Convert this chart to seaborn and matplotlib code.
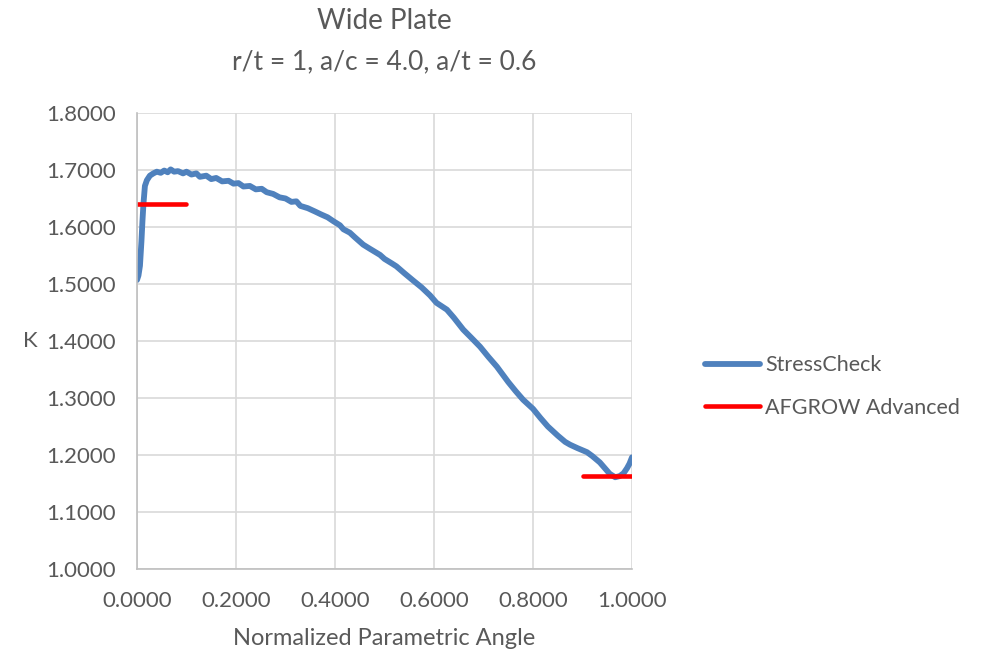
import matplotlib.pyplot as plt
import seaborn as sns
import pandas as pd
from matplotlib.ticker import FormatStrFormatter, MultipleLocator

# Valores (StressCheck)
angulo = [0.000, 0.003, 0.006, 0.009, 0.011, 0.013, 0.016, 0.020, 0.026, 0.033,
          0.040, 0.048, 0.055, 0.062, 0.068, 0.075, 0.083, 0.093, 0.100, 0.110,
          0.120, 0.127, 0.140, 0.150, 0.160, 0.172, 0.185, 0.195, 0.205, 0.215,
          0.228, 0.240, 0.252, 0.262, 0.275, 0.288, 0.300, 0.312, 0.322, 0.330,
          0.345, 0.360, 0.372, 0.385, 0.397, 0.410, 0.417, 0.430, 0.440, 0.457,
          0.470, 0.491, 0.500, 0.515, 0.524, 0.540, 0.558, 0.575, 0.592, 0.605,
          0.626, 0.640, 0.659, 0.675, 0.693, 0.710, 0.727, 0.750, 0.765, 0.780,
          0.800, 0.815, 0.830, 0.850, 0.865, 0.875, 0.890, 0.909, 0.920, 0.935,
          0.945, 0.955, 0.966, 0.975, 0.983, 0.990, 0.995, 1.000]
k_stresscheck = [1.507, 1.515, 1.532, 1.575, 1.610, 1.640, 1.672, 1.682, 1.690, 1.694,
                 1.697, 1.695, 1.699, 1.696, 1.701, 1.697, 1.698, 1.694, 1.697, 1.692,
                 1.694, 1.688, 1.690, 1.684, 1.686, 1.680, 1.681, 1.676, 1.677, 1.671,
                 1.672, 1.666, 1.667, 1.661, 1.658, 1.652, 1.650, 1.644, 1.645, 1.637,
                 1.633, 1.627, 1.622, 1.617, 1.610, 1.603, 1.596, 1.590, 1.582, 1.569,
                 1.562, 1.551, 1.544, 1.536, 1.531, 1.519, 1.506, 1.494, 1.480, 1.467,
                 1.455, 1.441, 1.420, 1.406, 1.390, 1.372, 1.355, 1.328, 1.312, 1.297,
                 1.281, 1.265, 1.250, 1.234, 1.223, 1.218, 1.212, 1.205, 1.198, 1.187,
                 1.177, 1.167, 1.161, 1.163, 1.168, 1.177, 1.185, 1.196]

# AFGROW Advanced (dos segmentos)
afgrow_x1 = [0.0, 0.1]
afgrow_k1 = [1.640, 1.640]
afgrow_x2 = [0.9, 1.0]
afgrow_k2 = [1.163, 1.163]

gris = "#595959"

sns.set_style("white")
plt.rcParams['font.family'] = ['Lato', 'DejaVu Sans']

df_sc = pd.DataFrame({"x": angulo, "k": k_stresscheck})
df_af1 = pd.DataFrame({"x": afgrow_x1, "k": afgrow_k1})
df_af2 = pd.DataFrame({"x": afgrow_x2, "k": afgrow_k2})

fig = plt.figure(figsize=(9.82, 6.53), dpi=100)
ax = fig.add_axes([0.1395, 0.1286, 0.5041, 0.6984])

sns.lineplot(data=df_sc, x="x", y="k", ax=ax, color="#4f81bd", linewidth=4.2,
             label="StressCheck", solid_capstyle="round", sort=False)
sns.lineplot(data=df_af1, x="x", y="k", ax=ax, color="#ff0000", linewidth=3.3,
             label="AFGROW Advanced", solid_capstyle="round")
sns.lineplot(data=df_af2, x="x", y="k", ax=ax, color="#ff0000", linewidth=3.3,
             solid_capstyle="round")

# Ejes y rejilla
ax.set_xlim(0, 1)
ax.set_ylim(1.0, 1.8)
ax.xaxis.set_major_locator(MultipleLocator(0.2))
ax.yaxis.set_major_locator(MultipleLocator(0.1))
ax.xaxis.set_major_formatter(FormatStrFormatter("%.4f"))
ax.yaxis.set_major_formatter(FormatStrFormatter("%.4f"))
ax.grid(True, color="#d9d9d9", linewidth=1.2)
ax.set_axisbelow(True)
for lado in ["top", "right"]:
    ax.spines[lado].set_visible(False)
for lado in ["left", "bottom"]:
    ax.spines[lado].set_color("#bfbfbf")
    ax.spines[lado].set_linewidth(1.2)
ax.tick_params(axis="both", length=0, labelsize=16, labelcolor=gris)
ax.tick_params(axis="x", pad=16)
ax.tick_params(axis="y", pad=15)

ax.set_xlabel("Normalized Parametric Angle", fontsize=17, color=gris, labelpad=12)
ax.set_ylabel("K", fontsize=16, color=gris, rotation=0, labelpad=0, va="center")
ax.yaxis.set_label_coords(-0.215, 0.5)

# Titulos
fig.text(0.3915, 0.968, "Wide Plate", ha="center", va="center", fontsize=20, color=gris)
fig.text(0.3915, 0.905, "r/t = 1, a/c = 4.0, a/t = 0.6", ha="center", va="center",
         fontsize=19, color=gris)

# Leyenda
ax.legend(loc="center left", bbox_to_anchor=(1.1475, 0.40), frameon=False, fontsize=15.5,
          labelcolor=gris, handlelength=2.55, handletextpad=0.25, labelspacing=1.05,
          borderpad=0, borderaxespad=0)

plt.savefig("out.png", dpi=100)
